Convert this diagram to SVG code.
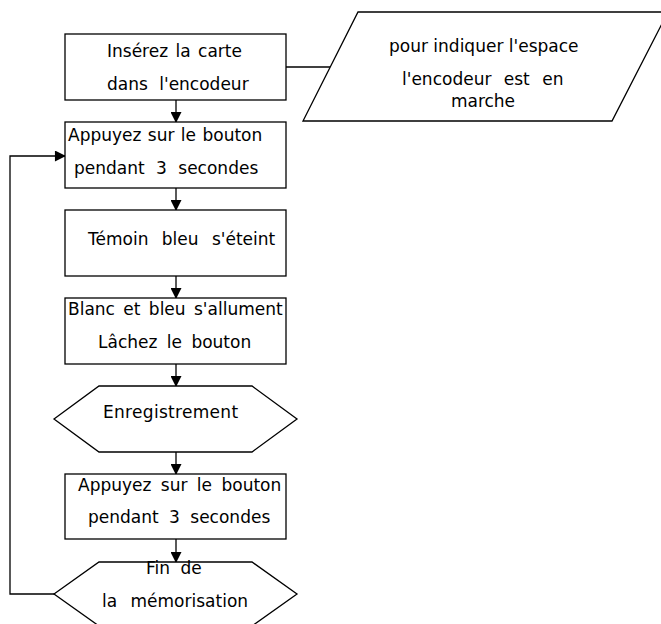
<svg xmlns="http://www.w3.org/2000/svg" width="661" height="624" viewBox="0 0 661 624">
<style>
.s{fill:#fff;stroke:#000;stroke-width:1.3}
.c{fill:none;stroke:#000;stroke-width:1.3}
text{font-family:"DejaVu Sans","Verdana",sans-serif;font-size:17px;fill:#000}
</style>
<defs>
<marker id="a" markerWidth="12" markerHeight="11" refX="11" refY="6" orient="auto" markerUnits="userSpaceOnUse" viewBox="0 0 12 12">
<path d="M0,0 L12,6 L0,12 Z" fill="#000"/>
</marker>
</defs>
<rect width="661" height="624" fill="#fff"/>
<g id="connectors">
<line class="c" x1="176" y1="100" x2="176" y2="122" marker-end="url(#a)"/>
<line class="c" x1="176" y1="188" x2="176" y2="210" marker-end="url(#a)"/>
<line class="c" x1="176" y1="276" x2="176" y2="298" marker-end="url(#a)"/>
<line class="c" x1="176" y1="364" x2="176" y2="386" marker-end="url(#a)"/>
<line class="c" x1="176" y1="452" x2="176" y2="474" marker-end="url(#a)"/>
<line class="c" x1="176" y1="539" x2="176" y2="562" marker-end="url(#a)"/>
<polyline class="c" points="54,594 10,594 10,156 65,156" marker-end="url(#a)"/>
<line class="c" x1="286" y1="67" x2="330" y2="67"/>
</g>
<g id="n1">
<rect class="s" x="65" y="34" width="221" height="66"/>
<text x="107" y="57" word-spacing="2">Insérez la carte</text>
<text x="107" y="90" word-spacing="6">dans l'encodeur</text>
</g>
<g id="n2">
<rect class="s" x="65" y="122" width="221" height="66"/>
<text x="68" y="141" word-spacing="1">Appuyez sur le bouton</text>
<text x="74" y="174" word-spacing="6">pendant 3 secondes</text>
</g>
<g id="n3">
<rect class="s" x="65" y="210" width="221" height="66"/>
<text x="88" y="245" word-spacing="8">Témoin bleu s'éteint</text>
</g>
<g id="n4">
<rect class="s" x="65" y="298" width="221" height="66"/>
<text x="68" y="315" word-spacing="3">Blanc et bleu s'allument</text>
<text x="98" y="348" word-spacing="4">Lâchez le bouton</text>
</g>
<g id="n5">
<polygon class="s" points="54,419 99,386 252,386 297,419 252,452 99,452"/>
<text x="103" y="418" letter-spacing="0.3">Enregistrement</text>
</g>
<g id="n6">
<rect class="s" x="65" y="474" width="221" height="65"/>
<text x="78" y="491" word-spacing="4">Appuyez sur le bouton</text>
<text x="88" y="523" word-spacing="5">pendant 3 secondes</text>
</g>
<g id="n7">
<polygon class="s" points="54,594 99,562 252,562 297,594 252,626 99,626"/>
<text x="146" y="574" word-spacing="5">Fin de</text>
<text x="102" y="607" word-spacing="8">la mémorisation</text>
</g>
<g id="n8">
<polygon class="s" points="358,12 668,12 612,121 303,121"/>
<text x="389" y="52">pour indiquer l'espace</text>
<text x="402" y="85" word-spacing="7">l'encodeur est en</text>
<text x="483" y="107" text-anchor="middle">marche</text>
</g>
</svg>
